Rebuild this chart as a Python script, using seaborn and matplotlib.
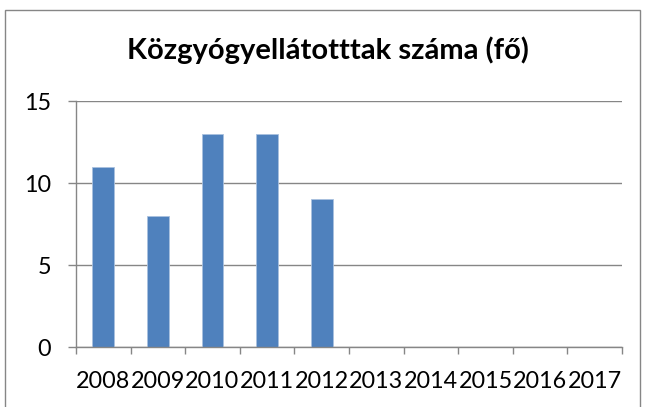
import matplotlib
matplotlib.use("Agg")
import matplotlib.pyplot as plt
import seaborn as sns
import pandas as pd
from matplotlib.patches import Rectangle
from matplotlib.ticker import FixedLocator

years = ["2008", "2009", "2010", "2011", "2012", "2013", "2014", "2015", "2016", "2017"]
values = [11, 8, 13, 13, 9, 0, 0, 0, 0, 0]
title = "Közgyógyellátotttak száma (fő)"

sns.set_theme(style="white")
plt.rcParams['font.family'] = ['Lato', 'DejaVu Sans']

df = pd.DataFrame({"year": years, "value": values})

fig = plt.figure(figsize=(6.45, 4.07), dpi=100)
ax = fig.add_axes([76/645, 1-347/407, (622-76)/645, (347-101)/407])

sns.barplot(data=df, x="year", y="value", color="#4F81BD", width=0.4,
            saturation=1, edgecolor="#A9C1DF", linewidth=0.6, ax=ax)

grid_c = "#868686"
ax.set_ylim(0, 15)
ax.set_xlim(-0.5, len(years)-0.5)
ax.set_yticks([0, 5, 10, 15])
ax.yaxis.grid(True, color=grid_c, linewidth=1.0)
ax.set_axisbelow(True)
ax.set_xlabel("")
ax.set_ylabel("")
for s in ["top", "right"]:
    ax.spines[s].set_visible(False)
for s in ["left", "bottom"]:
    ax.spines[s].set_color(grid_c)
    ax.spines[s].set_linewidth(1.0)

ax.tick_params(axis="y", which="major", length=6, width=1.0, color=grid_c,
               direction="out", pad=12, labelsize=16.8, labelcolor="black", left=True)
ax.tick_params(axis="x", which="major", length=0, pad=17, labelsize=16.8, labelcolor="black")
ax.xaxis.set_minor_locator(FixedLocator([i - 0.5 for i in range(len(years)+1)]))
ax.tick_params(axis="x", which="minor", length=5, width=1.0, color=grid_c,
               direction="out", bottom=True)

fig.text(0.508, 1-50/407, title, ha="center", va="center",
         fontsize=21, fontweight="bold", color="black")

fig.patches.append(Rectangle((5/645, -0.05), (640-5)/645, 1.05-10/407,
                             transform=fig.transFigure, fill=False,
                             edgecolor=grid_c, linewidth=1.0))

fig.savefig("out.png", dpi=100)
